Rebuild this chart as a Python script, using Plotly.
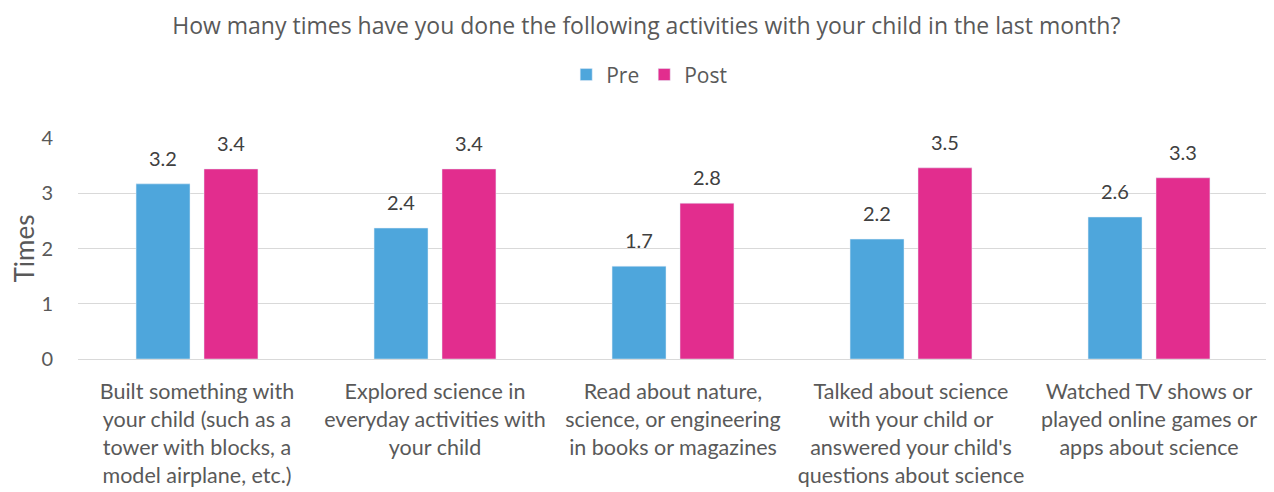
import plotly.graph_objects as go

categories = [
    "Built something with<br>your child (such as a<br>tower with blocks, a<br>model airplane, etc.)",
    "Explored science in<br>everyday activities with<br>your child",
    "Read about nature,<br>science, or engineering<br>in books or magazines",
    "Talked about science<br>with your child or<br>answered your child's<br>questions about science",
    "Watched TV shows or<br>played online games or<br>apps about science",
]
pre = [3.17, 2.37, 1.68, 2.17, 2.57]
post = [3.44, 3.44, 2.82, 3.46, 3.28]
y_ticks = [0, 1, 2, 3, 4]

BODY = "Lato, sans-serif"
HEAD = "'Open Sans', sans-serif"
GREY = "#595959"

fig = go.Figure()
fig.add_trace(go.Bar(name="Pre", x=categories, y=pre, marker_color="#4EA6DC"))
fig.add_trace(go.Bar(name="Post", x=categories, y=post, marker_color="#E22D8E"))

# value labels above bars
for series, shift in ((pre, -34), (post, 34)):
    for c, v in zip(categories, series):
        fig.add_annotation(x=c, y=v, xref="x", yref="y", text=f"{v:.1f}",
                           showarrow=False, xshift=shift, yshift=26,
                           yanchor="middle", font=dict(family=BODY, size=20, color="#404040"))

fig.update_layout(
    width=1274, height=492,
    barmode="group", bargap=0.429, bargroupgap=0.206,
    plot_bgcolor="white", paper_bgcolor="white",
    font=dict(family=BODY, color=GREY, size=18),
    title=dict(text="How many times have you done the following activities with your child in the last month?",
               x=0.501, xanchor="center", y=0.963, yanchor="middle", yref="container",
               font=dict(family=HEAD, size=23, color=GREY)),
    legend=dict(orientation="h", x=0.48, xanchor="center", y=0.864, yanchor="middle",
                yref="container", font=dict(family=HEAD, size=21, color=GREY),
                traceorder="normal"),
    margin=dict(l=70, r=14, t=130, b=141),
    xaxis=dict(showline=True, linecolor="#d9d9d9", linewidth=1, automargin=False,
               tickfont=dict(size=21.5, color=GREY), ticks="", ticklabelstandoff=13),
    yaxis=dict(range=[0, 4], tickvals=y_ticks, showgrid=True, gridcolor="#d9d9d9",
               zeroline=False, automargin=False, tickfont=dict(size=20, color=GREY),
               ticks="", ticklabelstandoff=24,
               title=dict(text="Times", font=dict(size=26, color=GREY), standoff=8)),
)

fig.write_html("out.html")
